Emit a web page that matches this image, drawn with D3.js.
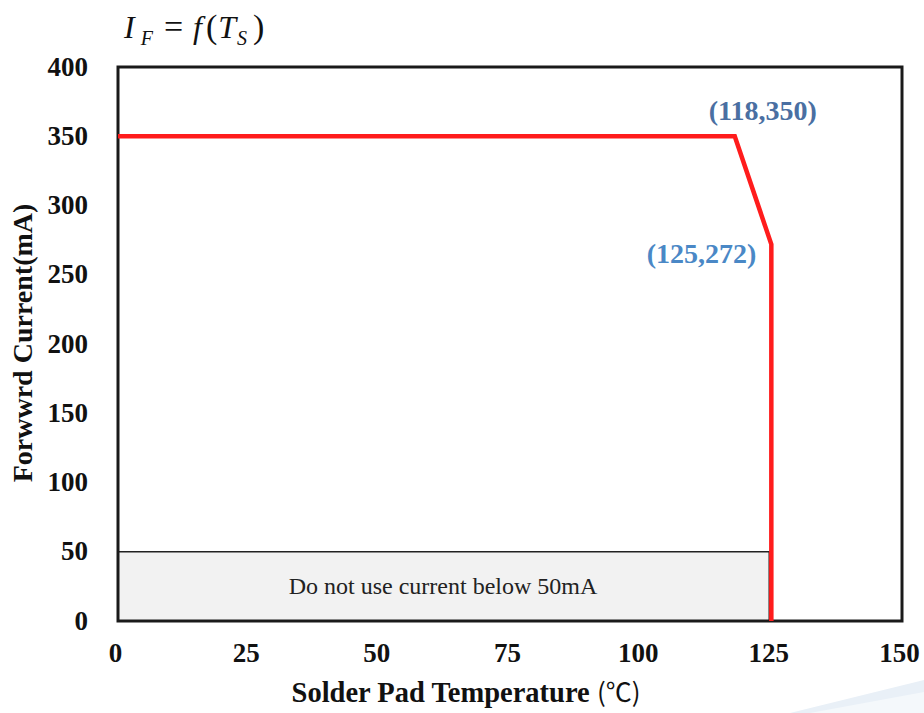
<!DOCTYPE html>
<html><head><meta charset="utf-8">
<script src="https://cdn.jsdelivr.net/npm/d3@7"></script>
<style>html,body{margin:0;padding:0;background:#fff;}svg{display:block;}</style>
</head><body>
<script>
// Data
const curveTemp = [0, 118, 125, 125];
const curveCurrent = [350, 350, 272, 0];
const xTicks = [0, 25, 50, 75, 100, 125, 150];
const yTicks = [0, 50, 100, 150, 200, 250, 300, 350, 400];
const annotations = [
  {label: "(118,350)", t: 118, i: 350},
  {label: "(125,272)", t: 125, i: 272}
];
const noUseRegion = {t0: 0, t1: 124.6, i0: 0, i1: 50, label: "Do not use current below 50mA"};

const W = 924, H = 713;
const m = {left: 118, right: 902, top: 67, bottom: 621};
const svg = d3.select("body").append("svg").attr("width", W).attr("height", H);

// faint watermark swoosh
svg.append("path")
  .attr("d", "M790,713 L924,680 L924,713 Z")
  .attr("fill", "#e9f0f7");
svg.append("path")
  .attr("d", "M810,713 L924,692 L924,713 Z")
  .attr("fill", "#f4f8fb");

const x = d3.scaleLinear().domain([0, 150]).range([m.left, m.right]);
const y = d3.scaleLinear().domain([0, 400]).range([m.bottom, m.top]);

const serif = "'Liberation Serif','Times New Roman',serif";

// no-use region
svg.append("rect")
  .attr("x", x(noUseRegion.t0)).attr("y", y(noUseRegion.i1))
  .attr("width", x(noUseRegion.t1) - x(noUseRegion.t0))
  .attr("height", y(noUseRegion.i0) - y(noUseRegion.i1))
  .attr("fill", "#f2f2f2").attr("stroke", "#222").attr("stroke-width", 1.5);
svg.append("text")
  .attr("x", 443).attr("y", 594)
  .attr("text-anchor", "middle")
  .attr("font-family", serif).attr("font-size", 24).attr("fill", "#222")
  .text(noUseRegion.label);

// frame
svg.append("rect")
  .attr("x", m.left).attr("y", m.top)
  .attr("width", m.right - m.left).attr("height", m.bottom - m.top)
  .attr("fill", "none").attr("stroke", "#1a1a1a").attr("stroke-width", 3);

// curve
const pts = curveTemp.map((t, k) => [t, curveCurrent[k]]);
svg.append("path")
  .attr("d", d3.line().x(d => x(d[0])).y(d => y(d[1]))(pts))
  .attr("fill", "none").attr("stroke", "#ff1c1c").attr("stroke-width", 4.5)
  .attr("stroke-linejoin", "miter");

// axes
const xAxis = svg.append("g").attr("transform", `translate(-3,${m.bottom})`)
  .call(d3.axisBottom(x).tickValues(xTicks).tickSize(0).tickPadding(21));
const yAxis = svg.append("g").attr("transform", `translate(${m.left},0)`)
  .call(d3.axisLeft(y).tickValues(yTicks).tickSize(0).tickPadding(30));
[xAxis, yAxis].forEach(g => {
  g.select(".domain").remove();
  g.selectAll("text").attr("font-family", serif).attr("font-size", 27)
    .attr("font-weight", "bold").attr("fill", "#111");
});
yAxis.selectAll("text").attr("dy", "0.3em");
xAxis.selectAll("text").attr("dy", "0.75em");

// annotations
svg.append("text").attr("x", x(annotations[0].t) + 28).attr("y", 120)
  .attr("text-anchor", "middle")
  .attr("font-family", serif).attr("font-size", 28).attr("font-weight", "bold")
  .attr("fill", "#4a6fa2").text(annotations[0].label);
svg.append("text").attr("x", x(annotations[1].t) - 15).attr("y", 263)
  .attr("text-anchor", "end")
  .attr("font-family", serif).attr("font-size", 28).attr("font-weight", "bold")
  .attr("fill", "#4a88c6").text(annotations[1].label);

// axis titles
const xt = svg.append("text").attr("x", 466).attr("y", 702)
  .attr("text-anchor", "middle")
  .attr("font-family", serif).attr("font-size", 28.5).attr("font-weight", "bold").attr("fill", "#111");
xt.append("tspan").text("Solder Pad Temperature ");
xt.append("tspan").attr("font-family", "'Noto Sans CJK SC',sans-serif").attr("font-weight", "normal")
  .attr("font-size", 26).text("(℃)");

svg.append("text")
  .attr("transform", `translate(32,343) rotate(-90)`)
  .attr("text-anchor", "middle")
  .attr("font-family", serif).attr("font-size", 28).attr("font-weight", "bold").attr("fill", "#111")
  .text("Forwwrd Current(mA)");

// title I_F = f(T_S)
const tt = svg.append("text").attr("x", 124).attr("y", 38)
  .attr("font-family", serif).attr("font-size", 32).attr("fill", "#111");
tt.append("tspan").attr("font-style", "italic").text("I");
tt.append("tspan").attr("font-style", "italic").attr("font-size", 20).attr("dy", 7).attr("dx", 6).text("F");
tt.append("tspan").attr("dy", -7).attr("dx", 11).attr("font-size", 34).text("=");
tt.append("tspan").attr("dx", 10).attr("font-style", "italic").text("f");
tt.append("tspan").attr("dx", 4).attr("font-size", 34).text("(");
tt.append("tspan").attr("font-style", "italic").attr("dx", 1).text("T");
tt.append("tspan").attr("font-style", "italic").attr("font-size", 20).attr("dy", 7).attr("dx", 1).text("S");
tt.append("tspan").attr("dy", -7).attr("dx", 6).attr("font-size", 34).text(")");
</script>
</body></html>
